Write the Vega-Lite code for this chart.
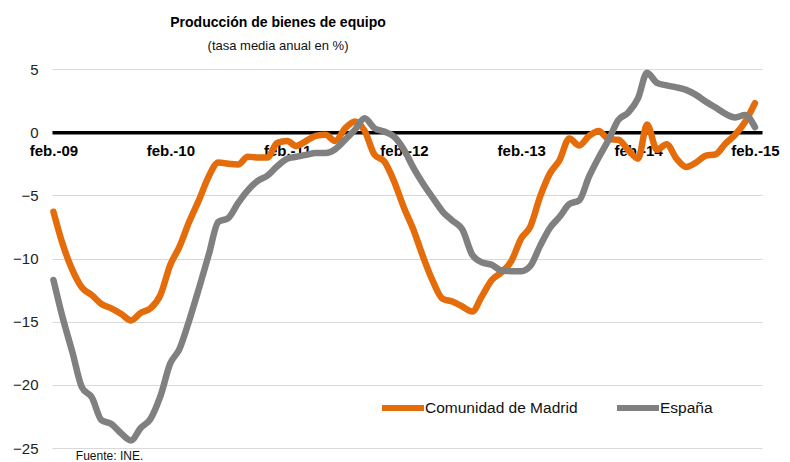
{
  "$schema": "https://vega.github.io/schema/vega-lite/v6.json",
  "width": 710,
  "height": 379,
  "autosize": "none",
  "padding": {"left": 52, "top": 69, "right": 28, "bottom": 14},
  "config": {
    "view": {"stroke": null},
    "font": "Liberation Sans"
  },
  "title": {
    "text": "Producción de bienes de equipo",
    "subtitle": "(tasa media anual en %)",
    "anchor": "middle",
    "frame": "group",
    "dx": -129,
    "offset": 9,
    "font": "Liberation Sans",
    "subtitleFont": "Liberation Sans",
    "fontSize": 14,
    "fontWeight": "bold",
    "color": "#000000",
    "subtitleFontSize": 13,
    "subtitleColor": "#111111",
    "subtitlePadding": 10
  },
  "datasets": {
    "series": [
      {"d":"2009-02-01","s":"Comunidad de Madrid","v":-6.3},
      {"d":"2009-03-01","s":"Comunidad de Madrid","v":-8.8},
      {"d":"2009-04-01","s":"Comunidad de Madrid","v":-10.9},
      {"d":"2009-05-01","s":"Comunidad de Madrid","v":-12.3},
      {"d":"2009-06-01","s":"Comunidad de Madrid","v":-12.9},
      {"d":"2009-07-01","s":"Comunidad de Madrid","v":-13.6},
      {"d":"2009-08-01","s":"Comunidad de Madrid","v":-13.95},
      {"d":"2009-09-01","s":"Comunidad de Madrid","v":-14.4},
      {"d":"2009-10-01","s":"Comunidad de Madrid","v":-14.9},
      {"d":"2009-11-01","s":"Comunidad de Madrid","v":-14.3},
      {"d":"2009-12-01","s":"Comunidad de Madrid","v":-13.95},
      {"d":"2010-01-01","s":"Comunidad de Madrid","v":-12.9},
      {"d":"2010-02-01","s":"Comunidad de Madrid","v":-10.5},
      {"d":"2010-03-01","s":"Comunidad de Madrid","v":-9.1},
      {"d":"2010-04-01","s":"Comunidad de Madrid","v":-7.1},
      {"d":"2010-05-01","s":"Comunidad de Madrid","v":-5.4},
      {"d":"2010-06-01","s":"Comunidad de Madrid","v":-3.5},
      {"d":"2010-07-01","s":"Comunidad de Madrid","v":-2.4},
      {"d":"2010-08-01","s":"Comunidad de Madrid","v":-2.5},
      {"d":"2010-09-01","s":"Comunidad de Madrid","v":-2.55},
      {"d":"2010-10-01","s":"Comunidad de Madrid","v":-1.95},
      {"d":"2010-11-01","s":"Comunidad de Madrid","v":-2.0},
      {"d":"2010-12-01","s":"Comunidad de Madrid","v":-2.0},
      {"d":"2011-01-01","s":"Comunidad de Madrid","v":-0.85},
      {"d":"2011-02-01","s":"Comunidad de Madrid","v":-0.7},
      {"d":"2011-03-01","s":"Comunidad de Madrid","v":-1.1},
      {"d":"2011-04-01","s":"Comunidad de Madrid","v":-0.7},
      {"d":"2011-05-01","s":"Comunidad de Madrid","v":-0.3},
      {"d":"2011-06-01","s":"Comunidad de Madrid","v":-0.2},
      {"d":"2011-07-01","s":"Comunidad de Madrid","v":-0.7},
      {"d":"2011-08-01","s":"Comunidad de Madrid","v":0.3},
      {"d":"2011-09-01","s":"Comunidad de Madrid","v":0.85},
      {"d":"2011-10-01","s":"Comunidad de Madrid","v":0.1},
      {"d":"2011-11-01","s":"Comunidad de Madrid","v":-1.8},
      {"d":"2011-12-01","s":"Comunidad de Madrid","v":-2.3},
      {"d":"2012-01-01","s":"Comunidad de Madrid","v":-3.9},
      {"d":"2012-02-01","s":"Comunidad de Madrid","v":-6.0},
      {"d":"2012-03-01","s":"Comunidad de Madrid","v":-7.7},
      {"d":"2012-04-01","s":"Comunidad de Madrid","v":-9.9},
      {"d":"2012-05-01","s":"Comunidad de Madrid","v":-11.8},
      {"d":"2012-06-01","s":"Comunidad de Madrid","v":-13.2},
      {"d":"2012-07-01","s":"Comunidad de Madrid","v":-13.4},
      {"d":"2012-08-01","s":"Comunidad de Madrid","v":-13.8},
      {"d":"2012-09-01","s":"Comunidad de Madrid","v":-14.2},
      {"d":"2012-10-01","s":"Comunidad de Madrid","v":-13.0},
      {"d":"2012-11-01","s":"Comunidad de Madrid","v":-11.7},
      {"d":"2012-12-01","s":"Comunidad de Madrid","v":-11.1},
      {"d":"2013-01-01","s":"Comunidad de Madrid","v":-10.2},
      {"d":"2013-02-01","s":"Comunidad de Madrid","v":-8.4},
      {"d":"2013-03-01","s":"Comunidad de Madrid","v":-7.5},
      {"d":"2013-04-01","s":"Comunidad de Madrid","v":-5.1},
      {"d":"2013-05-01","s":"Comunidad de Madrid","v":-3.3},
      {"d":"2013-06-01","s":"Comunidad de Madrid","v":-2.2},
      {"d":"2013-07-01","s":"Comunidad de Madrid","v":-0.5},
      {"d":"2013-08-01","s":"Comunidad de Madrid","v":-1.05},
      {"d":"2013-09-01","s":"Comunidad de Madrid","v":-0.3},
      {"d":"2013-10-01","s":"Comunidad de Madrid","v":0.1},
      {"d":"2013-11-01","s":"Comunidad de Madrid","v":-0.55},
      {"d":"2013-12-01","s":"Comunidad de Madrid","v":-0.6},
      {"d":"2014-01-01","s":"Comunidad de Madrid","v":-1.4},
      {"d":"2014-02-01","s":"Comunidad de Madrid","v":-2.1},
      {"d":"2014-03-01","s":"Comunidad de Madrid","v":0.6},
      {"d":"2014-04-01","s":"Comunidad de Madrid","v":-1.4},
      {"d":"2014-05-01","s":"Comunidad de Madrid","v":-0.95},
      {"d":"2014-06-01","s":"Comunidad de Madrid","v":-2.1},
      {"d":"2014-07-01","s":"Comunidad de Madrid","v":-2.75},
      {"d":"2014-08-01","s":"Comunidad de Madrid","v":-2.4},
      {"d":"2014-09-01","s":"Comunidad de Madrid","v":-1.85},
      {"d":"2014-10-01","s":"Comunidad de Madrid","v":-1.75},
      {"d":"2014-11-01","s":"Comunidad de Madrid","v":-0.9},
      {"d":"2014-12-01","s":"Comunidad de Madrid","v":-0.2},
      {"d":"2015-01-01","s":"Comunidad de Madrid","v":0.8},
      {"d":"2015-02-01","s":"Comunidad de Madrid","v":2.3},
      {"d":"2009-02-01","s":"España","v":-11.7},
      {"d":"2009-03-01","s":"España","v":-14.6},
      {"d":"2009-04-01","s":"España","v":-17.4},
      {"d":"2009-05-01","s":"España","v":-20.2},
      {"d":"2009-06-01","s":"España","v":-21.0},
      {"d":"2009-07-01","s":"España","v":-22.8},
      {"d":"2009-08-01","s":"España","v":-23.1},
      {"d":"2009-09-01","s":"España","v":-23.86},
      {"d":"2009-10-01","s":"España","v":-24.4},
      {"d":"2009-11-01","s":"España","v":-23.4},
      {"d":"2009-12-01","s":"España","v":-22.7},
      {"d":"2010-01-01","s":"España","v":-20.9},
      {"d":"2010-02-01","s":"España","v":-18.3},
      {"d":"2010-03-01","s":"España","v":-17.2},
      {"d":"2010-04-01","s":"España","v":-14.9},
      {"d":"2010-05-01","s":"España","v":-12.4},
      {"d":"2010-06-01","s":"España","v":-9.7},
      {"d":"2010-07-01","s":"España","v":-7.1},
      {"d":"2010-08-01","s":"España","v":-6.8},
      {"d":"2010-09-01","s":"España","v":-5.6},
      {"d":"2010-10-01","s":"España","v":-4.6},
      {"d":"2010-11-01","s":"España","v":-3.85},
      {"d":"2010-12-01","s":"España","v":-3.45},
      {"d":"2011-01-01","s":"España","v":-2.7},
      {"d":"2011-02-01","s":"España","v":-2.1},
      {"d":"2011-03-01","s":"España","v":-1.95},
      {"d":"2011-04-01","s":"España","v":-1.8},
      {"d":"2011-05-01","s":"España","v":-1.65},
      {"d":"2011-06-01","s":"España","v":-1.65},
      {"d":"2011-07-01","s":"España","v":-1.35},
      {"d":"2011-08-01","s":"España","v":-0.6},
      {"d":"2011-09-01","s":"España","v":0.2},
      {"d":"2011-10-01","s":"España","v":1.1},
      {"d":"2011-11-01","s":"España","v":0.3},
      {"d":"2011-12-01","s":"España","v":0.05},
      {"d":"2012-01-01","s":"España","v":-0.35},
      {"d":"2012-02-01","s":"España","v":-1.4},
      {"d":"2012-03-01","s":"España","v":-2.8},
      {"d":"2012-04-01","s":"España","v":-4.1},
      {"d":"2012-05-01","s":"España","v":-5.2},
      {"d":"2012-06-01","s":"España","v":-6.3},
      {"d":"2012-07-01","s":"España","v":-7.0},
      {"d":"2012-08-01","s":"España","v":-7.7},
      {"d":"2012-09-01","s":"España","v":-9.7},
      {"d":"2012-10-01","s":"España","v":-10.3},
      {"d":"2012-11-01","s":"España","v":-10.5},
      {"d":"2012-12-01","s":"España","v":-10.95},
      {"d":"2013-01-01","s":"España","v":-11.0},
      {"d":"2013-02-01","s":"España","v":-11.0},
      {"d":"2013-03-01","s":"España","v":-10.6},
      {"d":"2013-04-01","s":"España","v":-9.0},
      {"d":"2013-05-01","s":"España","v":-7.6},
      {"d":"2013-06-01","s":"España","v":-6.7},
      {"d":"2013-07-01","s":"España","v":-5.7},
      {"d":"2013-08-01","s":"España","v":-5.4},
      {"d":"2013-09-01","s":"España","v":-3.5},
      {"d":"2013-10-01","s":"España","v":-2.0},
      {"d":"2013-11-01","s":"España","v":-0.6},
      {"d":"2013-12-01","s":"España","v":0.95},
      {"d":"2014-01-01","s":"España","v":1.55},
      {"d":"2014-02-01","s":"España","v":2.7},
      {"d":"2014-03-01","s":"España","v":4.7},
      {"d":"2014-04-01","s":"España","v":3.9},
      {"d":"2014-05-01","s":"España","v":3.7},
      {"d":"2014-06-01","s":"España","v":3.55},
      {"d":"2014-07-01","s":"España","v":3.35},
      {"d":"2014-08-01","s":"España","v":2.95},
      {"d":"2014-09-01","s":"España","v":2.4},
      {"d":"2014-10-01","s":"España","v":1.95},
      {"d":"2014-11-01","s":"España","v":1.45},
      {"d":"2014-12-01","s":"España","v":1.17},
      {"d":"2015-01-01","s":"España","v":1.36},
      {"d":"2015-02-01","s":"España","v":0.4}
    ]
  },
  "layer": [
    {
      "data": {"name": "series"},
      "mark": {"type": "line", "strokeWidth": 6.5, "strokeCap": "round", "strokeJoin": "round", "interpolate": "monotone"},
      "encoding": {
        "x": {
          "field": "d",
          "type": "temporal",
          "scale": {"type": "utc", "domain": ["2009-01-27T12:00:00Z", "2015-02-23T00:00:00Z"]},
          "axis": {
            "orient": "bottom",
            "offset": -315.8,
            "values": [
              {"year": 2009, "month": 2, "date": 1, "utc": true},
              {"year": 2010, "month": 2, "date": 1, "utc": true},
              {"year": 2011, "month": 2, "date": 1, "utc": true},
              {"year": 2012, "month": 2, "date": 1, "utc": true},
              {"year": 2013, "month": 2, "date": 1, "utc": true},
              {"year": 2014, "month": 2, "date": 1, "utc": true},
              {"year": 2015, "month": 2, "date": 1, "utc": true}
            ],
            "labelExpr": "'feb.-' + utcFormat(datum.value, '%y')",
            "labelFont": "Liberation Sans",
            "labelFontSize": 15,
            "labelFontWeight": "bold",
            "labelColor": "#000000",
            "labelPadding": 11,
            "labelDx": 2,
            "labelFlush": false,
            "labelOverlap": false,
            "ticks": false,
            "grid": false,
            "domainColor": "#000000",
            "domainWidth": 3.5,
            "title": null
          }
        },
        "y": {
          "field": "v",
          "type": "quantitative",
          "scale": {"domain": [-25, 5], "nice": false, "zero": false},
          "axis": {
            "values": [-25, -20, -15, -10, -5, 0, 5],
            "labelFont": "Liberation Sans",
            "labelFontSize": 15,
            "labelColor": "#222222",
            "labelPadding": 14,
            "ticks": false,
            "domain": false,
            "gridColor": "#d9d9d9",
            "gridWidth": 1.2,
            "title": null
          }
        },
        "color": {
          "field": "s",
          "type": "nominal",
          "scale": {"domain": ["Comunidad de Madrid", "España"], "range": ["#E46C0A", "#808080"]},
          "legend": {
            "title": null,
            "orient": "none",
            "direction": "horizontal",
            "legendX": 327,
            "legendY": 315,
            "symbolType": "stroke",
            "symbolSize": 1764,
            "symbolStrokeWidth": 6,
            "labelFont": "Liberation Sans",
            "labelFontSize": 15.5,
            "labelColor": "#111111",
            "labelOffset": -2,
            "columnPadding": 27
          }
        }
      }
    },
    {
      "data": {"values": [{}]},
      "mark": {"type": "text", "align": "left", "baseline": "middle", "dy": 8, "fontSize": 12, "font": "Liberation Sans", "color": "#111111"},
      "encoding": {
        "x": {"datum": {"year": 2009, "month": 4, "date": 12, "utc": true}, "type": "temporal"},
        "y": {"datum": -25, "type": "quantitative"},
        "text": {"value": "Fuente: INE."}
      }
    }
  ]
}
